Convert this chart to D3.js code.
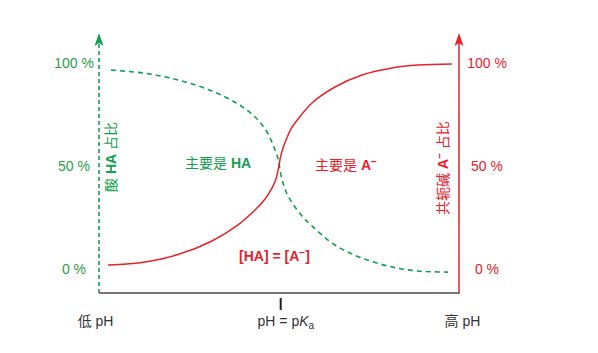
<!DOCTYPE html>
<html>
<head>
<meta charset="utf-8">
<script src="https://cdn.jsdelivr.net/npm/d3@7"></script>
<style>
  html, body { margin: 0; padding: 0; background: #fff; }
  svg { display: block; font-family: "Liberation Sans", Arial, "Noto Sans CJK SC", sans-serif; }
</style>
</head>
<body>
<svg id="chart" width="598" height="353"></svg>
<script>
// pH relative to pKa, and fraction (%)
const acidPH  = [-1.98, -1.583, -1.198, -0.802, -0.498, -0.3, -0.183, -0.113, -0.067, -0.037, -0.02,
                 0.003, 0.038, 0.085, 0.167, 0.26, 0.365, 0.633, 0.948, 1.298, 1.602, 1.952];
const acidPct = [96.6, 95.0, 91.75, 86.4, 80.1, 73.8, 68.0, 62.6, 57.8, 54.4, 51.0,
                 45.6, 40.3, 35.4, 30.1, 25.2, 20.9, 11.65, 5.3, 1.0, -1.0, -1.5];

const basePH  = [-2.015, -1.583, -1.198, -0.802, -0.498, -0.3, -0.183, -0.102, -0.055, -0.026, -0.002,
                 0.027, 0.062, 0.12, 0.202, 0.365, 0.633, 0.948, 1.298, 1.602, 1.998];
const basePct = [1.9, 3.4, 7.0, 13.6, 21.4, 28.6, 34.0, 39.3, 43.7, 49.0, 54.4,
                 58.7, 62.6, 68.0, 72.8, 80.6, 88.35, 94.2, 97.6, 99.0, 99.5];

const yTicks = [0, 50, 100];
const xLabels = [
    { ph: -2.16, text: "低 pH" },
    { ph: 0.06, text: "pH = pKa" },
    { ph: 2.12, text: "高 pH" }
];

const green = "#13a050";
const red = "#e8212b";

const svg = d3.select("#chart");

const x = d3.scaleLinear().domain([-2.12, 2.08]).range([99, 459]);
const y = d3.scaleLinear().domain([0, 100]).range([269, 63]);

const acid = acidPH.map((p, i) => [p, acidPct[i]]);
const base = basePH.map((p, i) => [p, basePct[i]]);

const line = d3.line()
    .x(d => x(d[0]))
    .y(d => y(d[1]))
    .curve(d3.curveCatmullRom.alpha(0.5));

// left axis (acid), dashed green with arrow
svg.append("line")
    .attr("x1", x.range()[0]).attr("x2", x.range()[0])
    .attr("y1", 293).attr("y2", 40)
    .attr("stroke", green)
    .attr("stroke-width", 1.6)
    .attr("stroke-dasharray", "4,3");
svg.append("path")
    .attr("d", `M${x.range()[0]},33 l4.5,13 l-4.5,-3 l-4.5,3 Z`)
    .attr("fill", green);

// right axis (base), solid red with arrow
svg.append("line")
    .attr("x1", x.range()[1]).attr("x2", x.range()[1])
    .attr("y1", 293).attr("y2", 40)
    .attr("stroke", red)
    .attr("stroke-width", 1.5);
svg.append("path")
    .attr("d", `M${x.range()[1]},33 l4.5,13 l-4.5,-3 l-4.5,3 Z`)
    .attr("fill", red);

// x axis
svg.append("line")
    .attr("x1", x.range()[0]).attr("x2", x.range()[1] + 1)
    .attr("y1", 293).attr("y2", 293)
    .attr("stroke", "#777")
    .attr("stroke-width", 2);

// pKa tick
svg.append("line")
    .attr("x1", x(0)).attr("x2", x(0))
    .attr("y1", 298).attr("y2", 310)
    .attr("stroke", "#222")
    .attr("stroke-width", 2);

// curves
svg.append("path")
    .datum(acid)
    .attr("d", line)
    .attr("fill", "none")
    .attr("stroke", green)
    .attr("stroke-width", 1.6)
    .attr("stroke-dasharray", "5,4");

svg.append("path")
    .datum(base)
    .attr("d", line)
    .attr("fill", "none")
    .attr("stroke", red)
    .attr("stroke-width", 1.5);

// y tick labels
svg.selectAll(".ytl")
    .data(yTicks)
    .enter()
    .append("text")
    .attr("class", "ytl")
    .attr("x", 74)
    .attr("y", d => y(d))
    .attr("dy", "0.35em")
    .attr("text-anchor", "middle")
    .attr("font-size", 14)
    .attr("fill", "#2e9e48")
    .text(d => d + " %");

svg.selectAll(".ytr")
    .data(yTicks)
    .enter()
    .append("text")
    .attr("class", "ytr")
    .attr("x", 487)
    .attr("y", d => y(d))
    .attr("dy", "0.35em")
    .attr("text-anchor", "middle")
    .attr("font-size", 14)
    .attr("fill", red)
    .text(d => d + " %");

// x labels
const xl = svg.selectAll(".xl")
    .data(xLabels)
    .enter()
    .append("text")
    .attr("class", "xl")
    .attr("x", d => x(d.ph))
    .attr("y", 326)
    .attr("text-anchor", "middle")
    .attr("font-size", 14)
    .attr("fill", "#333");
xl.each(function (d) {
    const t = d3.select(this);
    if (d.text === "pH = pKa") {
        t.append("tspan").text("pH = p");
        t.append("tspan").attr("font-style", "italic").text("K");
        t.append("tspan").attr("font-size", 10).attr("dy", 3).text("a");
    } else {
        t.text(d.text);
    }
});

// rotated axis titles
const leftTitle = svg.append("text")
    .attr("transform", `translate(111,157) rotate(-90)`)
    .attr("text-anchor", "middle")
    .attr("dy", "0.35em")
    .attr("font-size", 14)
    .attr("fill", green);
leftTitle.append("tspan").text("酸 ");
leftTitle.append("tspan").attr("font-weight", "bold").text("HA");
leftTitle.append("tspan").text(" 占比");

const rightTitle = svg.append("text")
    .attr("transform", `translate(443,168) rotate(-90)`)
    .attr("text-anchor", "middle")
    .attr("dy", "0.35em")
    .attr("font-size", 14)
    .attr("fill", red);
rightTitle.append("tspan").text("共轭碱 ");
rightTitle.append("tspan").attr("font-weight", "bold").text("A");
rightTitle.append("tspan").attr("font-weight", "bold").attr("font-size", 10).attr("dy", -5).text("−");
rightTitle.append("tspan").attr("dy", 5).text(" 占比");

// region labels
const haLabel = svg.append("text")
    .attr("x", 185).attr("y", 168)
    .attr("font-size", 14)
    .attr("fill", green);
haLabel.append("tspan").text("主要是 ");
haLabel.append("tspan").attr("font-weight", "bold").text("HA");

const aLabel = svg.append("text")
    .attr("x", 315).attr("y", 170)
    .attr("font-size", 14)
    .attr("fill", red);
aLabel.append("tspan").text("主要是 ");
aLabel.append("tspan").attr("font-weight", "bold").text("A");
aLabel.append("tspan").attr("font-weight", "bold").attr("font-size", 10).attr("dy", -5).text("−");

const eq = svg.append("text")
    .attr("x", 239).attr("y", 261)
    .attr("font-size", 14)
    .attr("font-weight", "bold")
    .attr("fill", red);
eq.append("tspan").text("[HA] = [A");
eq.append("tspan").attr("font-size", 10).attr("dy", -5).text("−");
eq.append("tspan").attr("dy", 5).text("]");
</script>
</body>
</html>
